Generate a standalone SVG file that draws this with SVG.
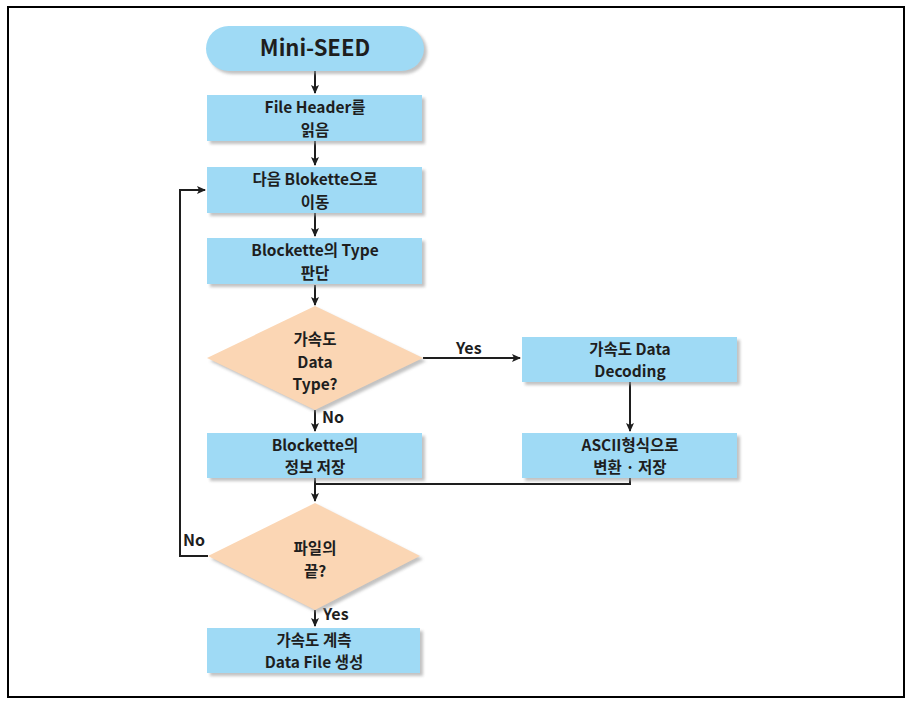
<svg xmlns="http://www.w3.org/2000/svg" width="910" height="701" viewBox="0 0 910 701">
<defs>
<style>
.box{fill:#9fdaf5;}
.dia{fill:#fbd6b4;}
.sh{fill:#9a9a9a;opacity:0.6;filter:url(#blur);}
.t{font-family:"Noto Sans CJK KR","Noto Sans",sans-serif;font-weight:bold;font-size:15.5px;fill:#1e1e1e;text-anchor:middle;}
.big{font-size:22px;}
.lab{font-family:"Noto Sans CJK KR","Noto Sans",sans-serif;font-weight:bold;font-size:16px;fill:#1e1e1e;}
.c{stroke:#1e1e1e;stroke-width:2;fill:none;}
</style>
<filter id="blur" x="-10%" y="-10%" width="130%" height="140%"><feGaussianBlur stdDeviation="1.5"/></filter>
<marker id="ah" markerWidth="10" markerHeight="10" refX="8" refY="5" orient="auto" markerUnits="userSpaceOnUse">
<path d="M0,1 L9,5 L0,9 L2,5 Z" fill="#1e1e1e"/>
</marker>
</defs>
<rect x="0" y="0" width="910" height="701" fill="#ffffff"/>
<rect x="8" y="7" width="896" height="690" fill="none" stroke="#000" stroke-width="2"/>

<g id="connectors">
<line class="c" x1="315" y1="71" x2="315" y2="93" marker-end="url(#ah)"/>
<line class="c" x1="315" y1="141" x2="315" y2="165" marker-end="url(#ah)"/>
<line class="c" x1="315" y1="213" x2="315" y2="236" marker-end="url(#ah)"/>
<line class="c" x1="315" y1="285" x2="315" y2="305" marker-end="url(#ah)"/>
<line class="c" x1="423" y1="358" x2="520" y2="358" marker-end="url(#ah)"/>
<line class="c" x1="315" y1="410" x2="315" y2="431" marker-end="url(#ah)"/>
<line class="c" x1="630" y1="382" x2="630" y2="431" marker-end="url(#ah)"/>
<polyline class="c" points="630,478 630,484 315,484"/>
<line class="c" x1="315" y1="478" x2="315" y2="501" marker-end="url(#ah)"/>
<polyline class="c" points="208,556 180,556 180,190 205,190" marker-end="url(#ah)"/>
<line class="c" x1="315" y1="610" x2="315" y2="626" marker-end="url(#ah)"/>
<text class="lab" x="456" y="354">Yes</text>
<text class="lab" x="322" y="423">No</text>
<text class="lab" x="183" y="546">No</text>
<text class="lab" x="323" y="620">Yes</text>
</g>

<g id="start">
<rect class="sh" x="209" y="29" width="218" height="45" rx="22.5"/>
<rect class="box" x="206" y="26" width="218" height="45" rx="22.5"/>
<text class="t big" x="315" y="56">Mini-SEED</text>
</g>

<g id="readHeader">
<rect class="sh" x="210" y="98" width="215" height="46"/>
<rect class="box" x="207" y="95" width="215" height="46"/>
<text class="t" x="315" y="113">File Header를</text>
<text class="t" x="315" y="135.5">읽음</text>
</g>

<g id="nextBlockette">
<rect class="sh" x="210" y="170" width="215" height="46"/>
<rect class="box" x="207" y="167" width="215" height="46"/>
<text class="t" x="315" y="185">다음 Blokette으로</text>
<text class="t" x="315" y="207.5">이동</text>
</g>

<g id="judgeType">
<rect class="sh" x="210" y="241" width="215" height="46"/>
<rect class="box" x="207" y="238" width="215" height="46"/>
<text class="t" x="315" y="256">Blockette의 Type</text>
<text class="t" x="315" y="278.5">판단</text>
</g>

<g id="decisionData">
<polygon class="sh" points="318,309 426,361 318,413 210,361"/>
<polygon class="dia" points="315,306 423,358 315,410 207,358"/>
<text class="t" x="315" y="345">가속도</text>
<text class="t" x="315" y="367.5">Data</text>
<text class="t" x="315" y="390">Type?</text>
</g>

<g id="decode">
<rect class="sh" x="525" y="340" width="215" height="45"/>
<rect class="box" x="522" y="337" width="215" height="45"/>
<text class="t" x="630" y="354.5">가속도 Data</text>
<text class="t" x="630" y="377">Decoding</text>
</g>

<g id="ascii">
<rect class="sh" x="525" y="436" width="215" height="45"/>
<rect class="box" x="522" y="433" width="215" height="45"/>
<text class="t" x="630" y="450.5">ASCII형식으로</text>
<text class="t" x="630" y="473">변환 · 저장</text>
</g>

<g id="saveInfo">
<rect class="sh" x="210" y="436" width="215" height="45"/>
<rect class="box" x="207" y="433" width="215" height="45"/>
<text class="t" x="315" y="450.5">Blockette의</text>
<text class="t" x="315" y="473">정보 저장</text>
</g>

<g id="decisionEnd">
<polygon class="sh" points="318,506 423,559 318,613 211,559"/>
<polygon class="dia" points="315,503 420,556 315,610 208,556"/>
<text class="t" x="315" y="554">파일의</text>
<text class="t" x="315" y="576.5">끝?</text>
</g>

<g id="output">
<rect class="sh" x="210" y="631" width="213" height="45"/>
<rect class="box" x="207" y="628" width="213" height="45"/>
<text class="t" x="314" y="645.5">가속도 계측</text>
<text class="t" x="314" y="668">Data File 생성</text>
</g>
</svg>
